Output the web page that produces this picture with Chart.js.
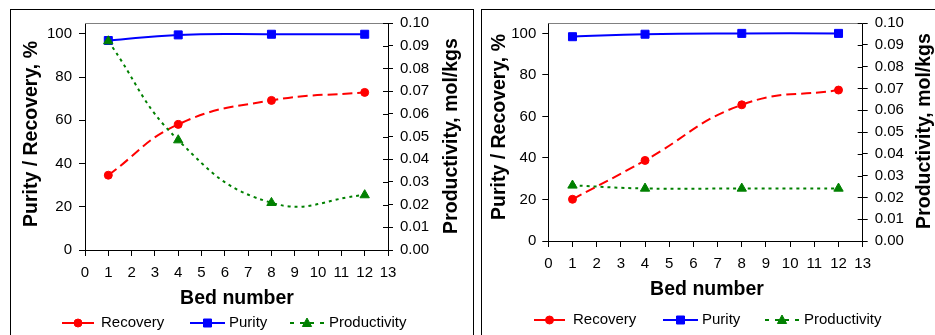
<!DOCTYPE html>
<html>
<head>
<meta charset="utf-8">
<script src="https://cdn.jsdelivr.net/npm/chart.js@4/dist/chart.umd.min.js"></script>
<style>
  html, body { margin:0; padding:0; background:#fff; width:935px; height:335px; overflow:hidden; }
  .frame { position:absolute; border:1px solid #000; box-sizing:border-box; }
  canvas { position:absolute; top:0; }
</style>
</head>
<body>
<div class="frame" style="left:10px;top:9px;width:464px;height:400px;"></div>
<div class="frame" style="left:481px;top:9px;width:600px;height:400px;"></div>
<canvas id="cA" width="477" height="335" style="left:0px;width:477px;height:335px;"></canvas>
<canvas id="cB" width="458" height="335" style="left:477px;width:458px;height:335px;"></canvas>
<script>
// ---------------- data ----------------
const beds = [1, 4, 8, 12];
const xTicks = [0,1,2,3,4,5,6,7,8,9,10,11,12,13];
const leftTicks = [0, 20, 40, 60, 80, 100];
const rightTicks = [0, 0.01, 0.02, 0.03, 0.04, 0.05, 0.06, 0.07, 0.08, 0.09, 0.10];

// Panel A (left)
const recoveryA = [34.6, 58.1, 69.2, 72.9];
const purityA = [96.9, 99.5, 99.8, 99.8];
const productivityA = [0.092, 0.0484, 0.0208, 0.0242];

// Panel B (right)
const recoveryB = [20.1, 38.8, 65.6, 72.7];
const purityB = [98.4, 99.6, 100.0, 100.0];
const productivityB = [0.0255, 0.0241, 0.0241, 0.0241];

const seriesNames = ['Recovery', 'Purity', 'Productivity'];
const xTitle = 'Bed number';
const yTitle = 'Purity / Recovery, %';
const y1Title = 'Productivity, mol/kgs';

// ---------------- helpers ----------------
const FONT = '"Liberation Sans", Arial, sans-serif';
const pts = (vals) => beds.map((b, i) => ({x: b, y: vals[i]}));

function drawMarker(ctx, style, x, y, color) {
  ctx.save();
  ctx.fillStyle = color; ctx.strokeStyle = color; ctx.lineWidth = 1;
  ctx.setLineDash([]);
  ctx.beginPath();
  if (style === 'circle') {
    ctx.arc(x, y, 4, 0, Math.PI * 2);
  } else if (style === 'rect') {
    ctx.rect(x - 4, y - 4, 8, 8);
  } else {
    ctx.moveTo(x, y - 5); ctx.lineTo(x + 4.6, y + 3.5); ctx.lineTo(x - 4.6, y + 3.5); ctx.closePath();
  }
  ctx.fill(); ctx.stroke();
  ctx.restore();
}

function extrasPlugin(L) {
  return {
    id: 'extras',
    beforeDatasetsDraw(chart) {
      const ctx = chart.ctx, a = chart.chartArea;
      ctx.save();
      ctx.strokeStyle = '#808080'; ctx.lineWidth = 1;
      ctx.beginPath();
      ctx.moveTo(a.left, Math.round(a.top) + 0.5); ctx.lineTo(a.right, Math.round(a.top) + 0.5);
      ctx.stroke();
      // inward ticks on right axis (cross ticks)
      const r = chart.scales.y1;
      ctx.strokeStyle = '#000';
      rightTicks.forEach(v => {
        const y = Math.round(r.getPixelForValue(v)) + 0.5;
        ctx.beginPath(); ctx.moveTo(a.right - 5, y); ctx.lineTo(a.right, y); ctx.stroke();
      });
      ctx.restore();
    },
    afterDraw(chart) {
      const ctx = chart.ctx;
      ctx.save();
      ctx.fillStyle = '#000';
      ctx.font = 'bold 19.5px ' + FONT;
      ctx.textAlign = 'center'; ctx.textBaseline = 'middle';
      // x title
      ctx.fillText(xTitle, L.xt[0], L.xt[1]);
      // y title
      ctx.save(); ctx.translate(L.yt[0], L.yt[1]); ctx.rotate(-Math.PI / 2);
      ctx.fillText(yTitle, 0, 0); ctx.restore();
      // y1 title
      ctx.save(); ctx.translate(L.y1t[0], L.y1t[1]); ctx.rotate(-Math.PI / 2);
      ctx.fillText(y1Title, 0, 0); ctx.restore();
      // legend
      ctx.font = '15px ' + FONT;
      ctx.textAlign = 'left';
      chart.data.datasets.forEach((ds, i) => {
        const it = L.legend[i];
        ctx.save();
        ctx.strokeStyle = ds.borderColor; ctx.lineWidth = 2;
        ctx.setLineDash(ds.legendDash || []);
        ctx.beginPath(); ctx.moveTo(it.x0, L.ly); ctx.lineTo(it.x1, L.ly); ctx.stroke();
        ctx.restore();
        drawMarker(ctx, ds.pointStyle, (it.x0 + it.x1) / 2, L.ly, ds.borderColor);
        ctx.fillStyle = '#000';
        ctx.fillText(seriesNames[i], it.tx, L.ly);
      });
      ctx.restore();
    }
  };
}

function makeChart(id, rec, pur, prod, G, L) {
  const tickFont = {family: FONT, size: 15};
  return new Chart(document.getElementById(id), {
    type: 'line',
    data: {
      datasets: [
        {label: seriesNames[0], data: pts(rec), yAxisID: 'y', borderColor: '#FF0000', backgroundColor: '#FF0000',
         borderWidth: 2, borderDash: [10, 5], legendDash: [], pointStyle: 'circle', pointRadius: 4, pointBorderWidth: 1,
         tension: 0.45, order: 3},
        {label: seriesNames[1], data: pts(pur), yAxisID: 'y', borderColor: '#0000FF', backgroundColor: '#0000FF',
         borderWidth: 2, borderDash: [], legendDash: [], pointStyle: 'rect', pointRadius: 5.66, pointBorderWidth: 1,
         tension: 0.45, order: 2},
        {label: seriesNames[2], data: pts(prod), yAxisID: 'y1', borderColor: '#008000', backgroundColor: '#008000',
         borderWidth: 2, borderDash: [3, 4], legendDash: [4, 6], pointStyle: 'triangle', pointRadius: 5.4, pointBorderWidth: 1,
         tension: 0.45, order: 1}
      ]
    },
    options: {
      responsive: false, animation: false, devicePixelRatio: 1,
      layout: {padding: {left: 0, right: 0, top: G.top, bottom: 0}},
      plugins: {legend: {display: false}, tooltip: {enabled: false}},
      scales: {
        x: {
          type: 'linear', position: 'bottom', min: 0, max: 13,
          afterBuildTicks: s => { s.ticks = xTicks.map(v => ({value: v})); },
          ticks: {font: tickFont, color: '#000', padding: 8, maxRotation: 0, autoSkip: false},
          grid: {drawOnChartArea: false, tickLength: 6, color: '#000'},
          border: {color: '#000', width: 1},
          afterFit: s => { s.height = G.xh; }
        },
        y: {
          type: 'linear', position: 'left', min: 0, max: 105,
          afterBuildTicks: s => { s.ticks = leftTicks.map(v => ({value: v})); },
          ticks: {font: tickFont, color: '#000', padding: G.yp, autoSkip: false},
          grid: {drawOnChartArea: false, tickLength: 6, color: '#000'},
          border: {color: '#000', width: 1},
          afterFit: s => { s.width = G.yw; }
        },
        y1: {
          type: 'linear', position: 'right', min: 0, max: 0.1,
          afterBuildTicks: s => { s.ticks = rightTicks.map(v => ({value: v})); },
          ticks: {font: tickFont, color: '#000', padding: 7, autoSkip: false, callback: v => Number(v).toFixed(2)},
          grid: {drawOnChartArea: false, tickLength: 5, color: '#000'},
          border: {color: '#000', width: 1},
          afterFit: s => { s.width = G.y1w; }
        }
      }
    },
    plugins: [extrasPlugin(L)]
  });
}

makeChart('cA', recoveryA, purityA, productivityA,
  {top: 23, xh: 85, yw: 85, y1w: 89, yp: 7},
  {xt: [237, 298.5], yt: [32, 134], y1t: [451.5, 136],
   ly: 323,
   legend: [{x0: 62, x1: 94, tx: 101}, {x0: 190, x1: 225, tx: 229}, {x0: 290, x1: 324, tx: 329}]});

makeChart('cB', recoveryB, purityB, productivityB,
  {top: 23, xh: 94, yw: 71.3, y1w: 72.3, yp: 6},
  {xt: [230, 290], yt: [23, 127], y1t: [448, 131],
   ly: 320,
   legend: [{x0: 57, x1: 88, tx: 96}, {x0: 186, x1: 221, tx: 225}, {x0: 288, x1: 322, tx: 327}]});
</script>
</body>
</html>
